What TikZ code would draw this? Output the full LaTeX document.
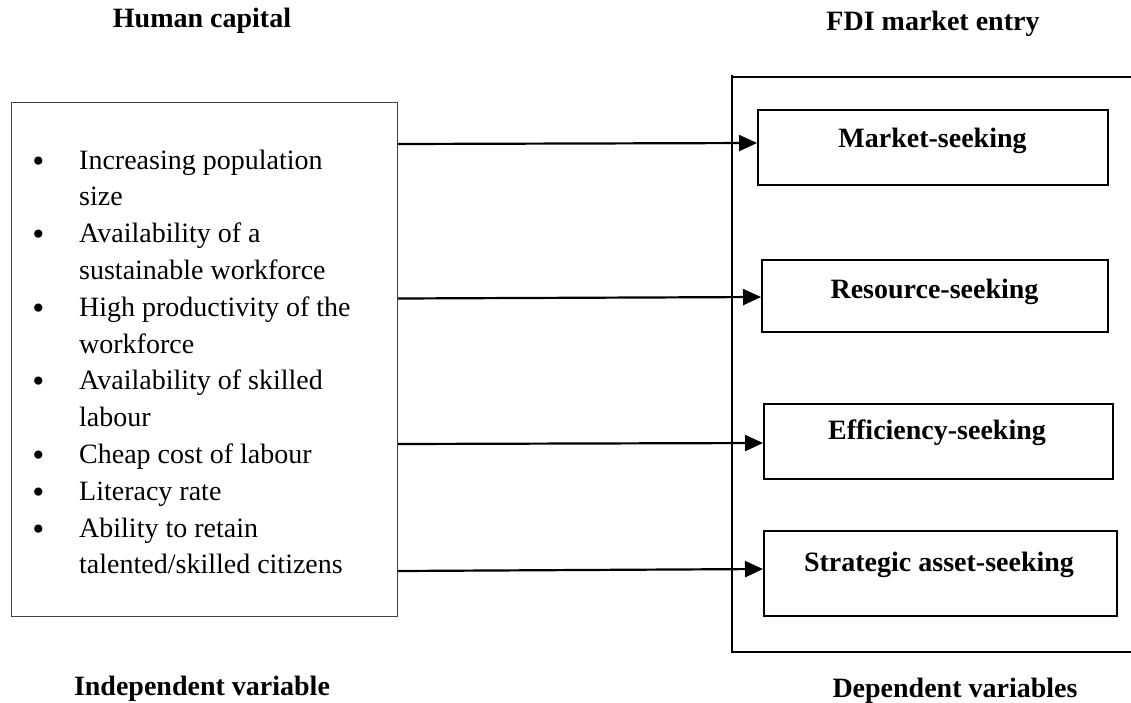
\documentclass[tikz,border=0pt]{standalone}
\usepackage{fontspec}
\setmainfont{Liberation Serif}
\newfontfamily\dvsans{DejaVu Sans}
\newcommand{\blt}{\raisebox{-2pt}{\dvsans •}}
\usetikzlibrary{arrows.meta}
\begin{document}
\begin{tikzpicture}[x=1pt,y=-1pt,
  txt/.style={font=\fontsize{28}{36.8}\selectfont, inner sep=0pt},
  title/.style={txt, font=\fontsize{28}{36.8}\selectfont\bfseries, anchor=base},
  dvbox/.style={draw, line width=2pt, anchor=north west, inner sep=0pt},
  ivbox/.style={draw=black!75, line width=1.1pt, anchor=north west, inner sep=0pt},
  arr/.style={line width=2.2pt, -{Triangle[length=18pt,width=16pt]}},
  frame/.style={line width=2pt}]
\useasboundingbox (0,0) rectangle (1131,702);

% titles
\node[title] (hc) at (202,27) {Human capital};
\node[title] (fdi) at (933,30) {FDI market entry};
\node[title] (iv) at (202,695) {Independent variable};
\node[title] (dv) at (955,697) {Dependent variables};

% independent variable box
\node[ivbox, minimum width=386pt, minimum height=514pt] (L) at (11,102) {};
\node[txt, anchor=base west] (list) at (30,169) {%
  \begin{tabular}[t]{@{}p{49pt}@{}l@{}}
  \blt & Increasing population\\
       & size\\
  \blt & Availability of a\\
       & sustainable workforce\\
  \blt & High productivity of the\\
       & workforce\\
  \blt & Availability of skilled\\
       & labour\\
  \blt & Cheap cost of labour\\
  \blt & Literacy rate\\
  \blt & Ability to retain\\
       & talented/skilled citizens
  \end{tabular}};

% bracket around dependent variables
\coordinate (bt) at (732,75);
\coordinate (bb) at (732,652);
\coordinate (br) at (1131,652);
\coordinate (tl) at (732,77);
\coordinate (tr) at (1131,77);
\draw[frame] (bt) -- (bb) -- (br);
\draw[frame] (tl) -- (tr);

% dependent variable boxes
\node[dvbox, minimum width=350pt, minimum height=75pt] (M) at (757,109) {};
\node[dvbox, minimum width=346pt, minimum height=72pt] (R) at (761,259) {};
\node[dvbox, minimum width=349pt, minimum height=75pt] (E) at (763,403) {};
\node[dvbox, minimum width=353pt, minimum height=85pt] (S) at (763,530) {};

\node[title] (Mt) at (932.5,147) {Market-seeking};
\node[title] (Rt) at (934.5,298) {Resource-seeking};
\node[title] (Et) at (937,439) {Efficiency-seeking};
\node[title] (St) at (939,571) {Strategic asset-seeking};

% arrows
\draw[arr] (L.east |- 0,144) -- (M.west |- 0,143);
\draw[arr] (L.east |- 0,298.5) -- (R.west |- 0,297);
\draw[arr] (L.east |- 0,444) -- (E.west |- 0,443);
\draw[arr] (L.east |- 0,571) -- (S.west |- 0,569);
\end{tikzpicture}
\end{document}
